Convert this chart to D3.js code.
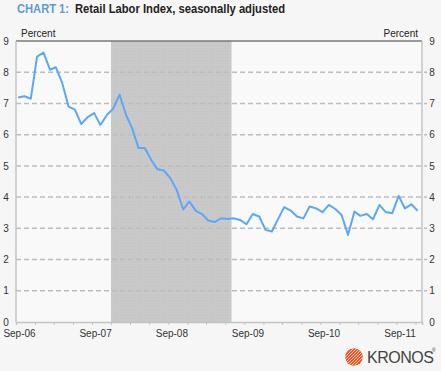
<!DOCTYPE html>
<html>
<head>
<meta charset="utf-8">
<script src="https://cdn.jsdelivr.net/npm/d3@7"></script>
<style>
  html, body { margin: 0; padding: 0; background: #f6f6f6; }
  svg { display: block; }
  text { font-family: "Liberation Sans", Arial, sans-serif; }
</style>
</head>
<body>
<svg id="chart" width="441" height="371"></svg>
<script>
// ---- data ----
const startMonth = "2006-09";
const monthCount = 64;
const values = [
  7.19, 7.23, 7.15, 8.50, 8.63, 8.08, 8.16, 7.65, 6.90, 6.80, 6.34, 6.56,
  6.69, 6.31, 6.63, 6.83, 7.28, 6.63, 6.21, 5.57, 5.57, 5.19, 4.89, 4.85,
  4.60, 4.23, 3.61, 3.86, 3.56, 3.45, 3.25, 3.20, 3.32, 3.30, 3.32, 3.27,
  3.13, 3.46, 3.38, 2.95, 2.90, 3.32, 3.68, 3.57, 3.38, 3.32, 3.70, 3.64,
  3.52, 3.75, 3.62, 3.43, 2.79, 3.54, 3.40, 3.46, 3.29, 3.75, 3.52, 3.48,
  4.04, 3.64, 3.77, 3.56
];
const yTicks = [0, 1, 2, 3, 4, 5, 6, 7, 8, 9];
const xDomain = ["2006-09", "2012-01"];
const recession = ["2007-12", "2009-07"];
const xLabelMonth = "Sep";
const titleLead = "CHART 1:";
const titleText = "Retail Labor Index, seasonally adjusted";
const axisUnit = "Percent";
const logoText = "KRONOS";

// ---- build ----
const parseM = d3.timeParse("%Y-%m");
const start = parseM(startMonth);
const months = d3.range(monthCount).map(i => d3.timeMonth.offset(start, i));
const data = months.map((m, i) => ({ date: d3.timeDay.offset(m, 10), value: values[i] }));

const svg = d3.select("#chart");
const L = 16, R = 422, T = 41, B = 322;

const x = d3.scaleTime().domain(xDomain.map(parseM)).range([L, R]);
const y = d3.scaleLinear().domain([0, 9]).range([B, T]);

// plot background
svg.append("rect").attr("x", L).attr("y", T).attr("width", R - L).attr("height", B - T)
  .attr("fill", "#f9f9f9");

// recession shading with subtle texture
const defs = svg.append("defs");
const pat = defs.append("pattern").attr("id", "hatch").attr("width", 3).attr("height", 3)
  .attr("patternUnits", "userSpaceOnUse");
pat.append("rect").attr("width", 3).attr("height", 3).attr("fill", "#c9c9c9");
pat.append("rect").attr("width", 1).attr("height", 1).attr("fill", "#c2c2c2");
svg.append("rect")
  .attr("x", x(parseM(recession[0]))).attr("y", T)
  .attr("width", x(parseM(recession[1])) - x(parseM(recession[0])))
  .attr("height", B - T)
  .attr("fill", "url(#hatch)");

// grid lines
svg.append("g").selectAll("line").data(yTicks.filter(d => d > 0 && d < 9)).join("line")
  .attr("x1", L).attr("x2", R + 5)
  .attr("y1", d => y(d)).attr("y2", d => y(d))
  .attr("stroke", "#bdbdbd").attr("stroke-width", 1.5)
  .attr("stroke-dasharray", "5,3");

// top border
svg.append("line").attr("x1", L).attr("x2", R).attr("y1", T).attr("y2", T)
  .attr("stroke", "#7a7a7a").attr("stroke-width", 1.5);

// left & right axis lines
svg.append("line").attr("x1", L).attr("x2", L).attr("y1", T).attr("y2", B)
  .attr("stroke", "#c4c4c4").attr("stroke-width", 1.5);
svg.append("line").attr("x1", R).attr("x2", R).attr("y1", T).attr("y2", B)
  .attr("stroke", "#c4c4c4").attr("stroke-width", 1.5);

// bottom axis
const qTicks = d3.timeMonth.range(parseM(xDomain[0]), parseM(xDomain[1]), 3);
const xAxis = d3.axisBottom(x).tickValues(qTicks).tickSize(3)
  .tickFormat(d => d3.timeFormat("%b")(d) === xLabelMonth ? d3.timeFormat("%b-%y")(d) : "");
const gx = svg.append("g").attr("transform", `translate(0,${B})`).call(xAxis);
gx.select(".domain").attr("stroke", "#c4c4c4").attr("stroke-width", 1.5);
gx.selectAll(".tick line").attr("stroke", "#c4c4c4");
gx.selectAll(".tick text").attr("dx", 3).attr("dy", 9).attr("fill", "#333")
  .style("font-size", "10px").style("font-family", "Liberation Sans, Arial, sans-serif");

// y tick labels left/right
const yAxisL = d3.axisLeft(y).tickValues(yTicks).tickSize(0).tickPadding(7);
const gyl = svg.append("g").attr("transform", `translate(${L},0)`).call(yAxisL);
gyl.select(".domain").remove();
gyl.selectAll("text").attr("fill", "#333").attr("text-anchor", "middle").attr("x", -10)
  .style("font-size", "10px").style("font-family", "Liberation Sans, Arial, sans-serif");
const yAxisR = d3.axisRight(y).tickValues(yTicks).tickSize(0).tickPadding(7);
const gyr = svg.append("g").attr("transform", `translate(${R},0)`).call(yAxisR);
gyr.select(".domain").remove();
gyr.selectAll("text").attr("fill", "#333").attr("text-anchor", "middle").attr("x", 10)
  .style("font-size", "10px").style("font-family", "Liberation Sans, Arial, sans-serif");

// unit labels
svg.append("text").attr("x", L + 5).attr("y", T - 4).text(axisUnit)
  .attr("font-size", 10).attr("fill", "#222");
svg.append("text").attr("x", R - 4).attr("y", T - 4).text(axisUnit)
  .attr("text-anchor", "end").attr("font-size", 10).attr("fill", "#222");

// line
const line = d3.line().x(d => x(d.date)).y(d => y(d.value));
svg.append("path").datum(data).attr("d", line)
  .attr("fill", "none").attr("stroke", "#5aa9f7").attr("stroke-width", 2)
  .attr("stroke-linejoin", "round");

// title (condensed via textLength)
svg.append("text").attr("x", 17).attr("y", 13).text(titleLead)
  .attr("textLength", 52).attr("lengthAdjust", "spacingAndGlyphs")
  .style("font-size", "12.5px").style("font-weight", "bold").attr("fill", "#5b9bd8");
svg.append("text").attr("x", 75).attr("y", 13).text(titleText)
  .attr("textLength", 210).attr("lengthAdjust", "spacingAndGlyphs")
  .style("font-size", "12.5px").style("font-weight", "bold").attr("fill", "#222");

// logo
const logo = svg.append("g").attr("transform", "translate(354,357)");
defs.append("clipPath").attr("id", "logoClip").append("circle").attr("r", 9);
const lg = logo.append("g").attr("clip-path", "url(#logoClip)");
lg.append("circle").attr("r", 9).attr("fill", "#e85a2a");
lg.selectAll("line").data(d3.range(-3, 4)).join("line")
  .attr("x1", d => d * 3 - 10).attr("y1", 10).attr("x2", d => d * 3 + 10).attr("y2", -10)
  .attr("stroke", "#fff").attr("stroke-width", 0.8).attr("opacity", 0.8);
svg.append("text").attr("x", 367).attr("y", 363).text(logoText)
  .attr("font-size", 16).attr("fill", "#444").attr("letter-spacing", -0.5);
svg.append("text").attr("x", 432).attr("y", 352).text("®")
  .attr("font-size", 5).attr("fill", "#444");
</script>
</body>
</html>
